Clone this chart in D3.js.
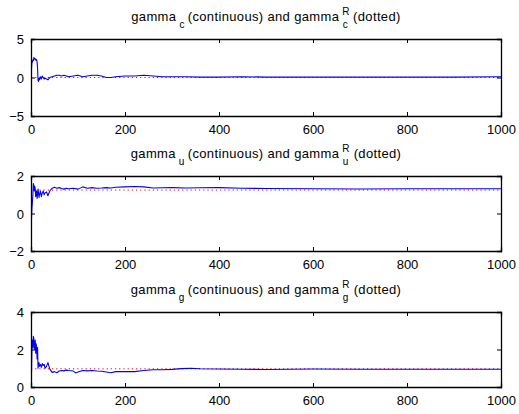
<!DOCTYPE html>
<html>
<head>
<meta charset="utf-8">
<script src="https://cdn.jsdelivr.net/npm/d3@7"></script>
<style>
  html, body { margin: 0; padding: 0; background: #fff; }
  svg { display: block; }
  text { font-family: Arial, "Liberation Sans", Helvetica, sans-serif; fill: #000; }
</style>
</head>
<body>
<svg id="chart" width="519" height="414"></svg>
<script>
// ---- data ----
const xTicks = [0, 200, 400, 600, 800, 1000];

const stepsC = [1,2,3,4,5,6,7,8,9,10,11,12,13,14,15,16,17,18,20,22,24,26,28,30,33,36,40,45,50,55,60,65,70,75,80,90,100,110,120,130,140,150,160,170,180,200,220,240,260,280,300,330,360,400,450,500,600,700,800,900,1000];
const gammaC = [1.0,2.1,2.0,2.3,2.2,2.6,2.4,2.5,2.3,2.4,2.2,2.3,2.0,1.2,-0.4,-0.5,-0.1,-0.3,0.1,-0.2,0.2,0.0,-0.2,-0.1,-0.2,-0.3,0.0,0.1,0.2,0.3,0.3,0.2,0.3,0.2,0.1,0.2,0.3,0.1,0.2,0.3,0.3,0.2,0.0,0.0,0.1,0.2,0.2,0.3,0.2,0.1,0.1,0.1,0.05,0.05,0.1,0.05,0.05,0.05,0.05,0.05,0.1];
const refC = [0.0, 0.0];
const yTicksC = [-5, 0, 5];

const stepsU = [1,2,3,4,5,6,7,8,9,10,11,12,13,14,15,16,17,18,20,22,24,26,28,30,33,36,40,45,50,55,60,65,70,75,80,90,100,110,120,130,140,150,160,170,180,200,220,240,260,280,300,330,360,400,450,500,600,700,800,900,1000];
const gammaU = [-0.3,0.3,0.6,1.0,1.6,1.5,1.2,1.45,1.3,0.9,1.1,1.2,0.8,1.0,1.3,1.1,0.85,1.0,1.2,0.9,1.1,1.2,1.0,1.1,1.15,0.95,1.2,1.35,1.4,1.35,1.38,1.33,1.3,1.35,1.32,1.35,1.3,1.42,1.35,1.38,1.35,1.36,1.38,1.36,1.4,1.42,1.44,1.42,1.36,1.37,1.38,1.36,1.37,1.38,1.35,1.33,1.32,1.31,1.32,1.32,1.32];
const refU = [1.25, 1.25];
const yTicksU = [-2, 0, 2];

const stepsG = [1,2,3,4,5,6,7,8,9,10,11,12,13,14,15,16,17,18,20,22,24,26,28,30,33,36,40,45,50,55,60,65,70,75,80,90,95,100,110,120,130,140,150,160,170,180,200,220,240,260,280,300,320,340,360,400,450,500,550,600,700,800,900,1000];
const gammaG = [0.7,2.0,2.5,2.1,2.7,2.6,2.0,2.4,2.5,1.8,2.3,2.1,1.5,2.1,1.0,1.2,1.3,1.1,1.2,1.05,1.25,1.15,1.2,1.0,1.1,1.3,0.95,0.78,0.82,0.76,0.85,0.88,0.86,0.9,0.88,0.85,0.75,0.8,0.88,0.86,0.88,0.85,0.84,0.8,0.76,0.82,0.83,0.82,0.88,0.92,0.92,0.94,0.98,1.0,0.97,0.96,0.95,0.93,0.95,0.96,0.95,0.95,0.95,0.95];
const refG = [0.97, 0.97];
const yTicksG = [0, 2, 4];

const refSteps = [0, 1000];

const panels = [
  { sub: "c", steps: stepsC, vals: gammaC, ref: refC, yTicks: yTicksC, top: 39, h: 77 },
  { sub: "u", steps: stepsU, vals: gammaU, ref: refU, yTicks: yTicksU, top: 176, h: 75 },
  { sub: "g", steps: stepsG, vals: gammaG, ref: refG, yTicks: yTicksG, top: 312, h: 75 }
];

// ---- drawing ----
const svg = d3.select("#chart");
const left = 31, right = 501;
const x = d3.scaleLinear().domain([0, 1000]).range([left, right]);
const fmt = d3.format("d");

panels.forEach(p => {
  const y = d3.scaleLinear().domain([p.yTicks[0], p.yTicks[2]]).range([p.top + p.h, p.top]);
  const g = svg.append("g");

  // reference dotted line
  g.append("path")
    .datum(refSteps.map((s, i) => [s, p.ref[i]]))
    .attr("fill", "none").attr("stroke", "#ff0000").attr("stroke-width", 1)
    .attr("stroke-dasharray", "1.2,3")
    .attr("d", d3.line().x(d => x(d[0])).y(d => y(d[1])));

  // continuous line
  g.append("path")
    .datum(p.steps.map((s, i) => [s, p.vals[i]]))
    .attr("fill", "none").attr("stroke", "#0000ff").attr("stroke-width", 1.1)
    .attr("stroke-linejoin", "round")
    .attr("d", d3.line().x(d => x(d[0])).y(d => y(d[1])));

  // axes
  const tickLen = 4;
  const bottomAx = d3.axisBottom(x).tickValues(xTicks).tickFormat(fmt).tickSize(-tickLen).tickPadding(tickLen + 5);
  const topAx = d3.axisTop(x).tickValues(xTicks).tickSize(-tickLen).tickFormat("");
  const leftAx = d3.axisLeft(y).tickValues(p.yTicks).tickFormat(fmt).tickSize(-tickLen).tickPadding(tickLen + 3);
  const rightAx = d3.axisRight(y).tickValues(p.yTicks).tickSize(-tickLen).tickFormat("");

  const axB = g.append("g").attr("transform", `translate(0,${p.top + p.h})`).call(bottomAx);
  const axT = g.append("g").attr("transform", `translate(0,${p.top})`).call(topAx);
  const axL = g.append("g").attr("transform", `translate(${left},0)`).call(leftAx);
  const axR = g.append("g").attr("transform", `translate(${right},0)`).call(rightAx);
  [axB, axT, axL, axR].forEach(a => {
    a.selectAll("path.domain").attr("stroke", "#000").attr("stroke-width", 1.3);
    a.selectAll(".tick line").attr("stroke", "#000");
    a.selectAll("text").style("font-size", "13px").style("font-family", "Arial, 'Liberation Sans', sans-serif").attr("fill", "#000");
  });
  axL.selectAll("text").attr("dy", "0.35em");

  // title
  const t = g.append("text").attr("y", p.top - 18).style("font-size", "13px").style("letter-spacing", "0.35px");
  t.append("tspan").text("gamma");
  t.append("tspan").attr("dx", 3).attr("dy", 7).style("font-size", "10px").text(p.sub);
  t.append("tspan").attr("dx", 3).attr("dy", -7).text("(continuous) and gamma");
  const rT = t.append("tspan").attr("dx", 3).attr("dy", -6).style("font-size", "10px").text("R");
  const wR = rT.node().getComputedTextLength();
  t.append("tspan").attr("dx", -wR + 0.5).attr("dy", 13).style("font-size", "10px").text(p.sub);
  t.append("tspan").attr("dx", 5).attr("dy", -7).text("(dotted)");
  const bb = t.node().getBBox();
  t.attr("x", (left + right) / 2 - bb.width / 2);
});
</script>
</body>
</html>
